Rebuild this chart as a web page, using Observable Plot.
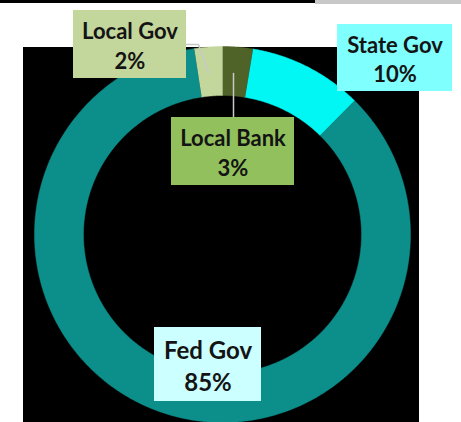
<!DOCTYPE html>
<html>
<head>
<meta charset="utf-8">
<script src="https://cdn.jsdelivr.net/npm/d3@7"></script>
<script src="https://cdn.jsdelivr.net/npm/@observablehq/plot@0.6"></script>
<style>
  html, body { margin: 0; padding: 0; background: #fff; }
  #chart svg { display: block; }
</style>
</head>
<body>
<div id="chart"></div>
<script>
// ---- data ----
const categories = ["Local Bank", "State Gov", "Fed Gov", "Local Gov"];
const shares = [2.6, 9.8, 85.2, 2.4];          // percent, clockwise from 12 o'clock
const pctLabels = ["3%", "10%", "85%", "2%"];
const sliceColors = ["#4f6228", "#00f7f3", "#0c8f8a", "#c3d69b"];
const boxColors = ["#92c05c", "#80ffff", "#ccffff", "#c3d69b"];

// ---- layout (pixel units, mapped 1:1 by the scales) ----
const W = 461, H = 422;
const center = {x: 222, y: 234};
const rOuter = 188, rInner = 139;
const panel = [{x1: 23, x2: 419, y1: 47, y2: 422, fill: "#000"},
               {x1: 0, x2: 315, y1: 0, y2: 3, fill: "#000"},
               {x1: 315, x2: 461, y1: 0, y2: 4, fill: "#c8c8c8"}];
const labelLayout = {
  "Local Bank": {x1: 171, x2: 294, y1: 117, y2: 185, size: 22},
  "State Gov":  {x1: 337, x2: 452, y1: 24,  y2: 91,  size: 22},
  "Fed Gov":    {x1: 154, x2: 261, y1: 327, y2: 401, size: 24},
  "Local Gov":  {x1: 73,  x2: 186, y1: 10,  y2: 78,  size: 22}
};
const leaders = [
  {id: "bank", pts: [[233, 117], [233, 73]]},
  {id: "gov",  pts: [[186, 44], [198, 44], [208, 72]]}
];

// ---- build ring polygons from the data ----
const total = d3.sum(shares);
const ring = [];
let acc = 0;
categories.forEach((name, i) => {
  const a0 = acc / total * 2 * Math.PI;
  acc += shares[i];
  const a1 = acc / total * 2 * Math.PI;
  const n = Math.max(8, Math.ceil((a1 - a0) / (Math.PI / 360)));
  for (let k = 0; k <= n; k++) {
    const a = a0 + (a1 - a0) * k / n;
    ring.push({name, x: center.x + rOuter * Math.sin(a), y: center.y - rOuter * Math.cos(a)});
  }
  for (let k = n; k >= 0; k--) {
    const a = a0 + (a1 - a0) * k / n;
    ring.push({name, x: center.x + rInner * Math.sin(a), y: center.y - rInner * Math.cos(a)});
  }
});

const labels = categories.map((name, i) => ({
  name, text: name + "\n" + pctLabels[i], fill: boxColors[i], ...labelLayout[name]
}));
const leaderPts = leaders.flatMap(l => l.pts.map(([x, y]) => ({id: l.id, x, y})));

const chart = Plot.plot({
  width: W, height: H,
  margin: 0,
  x: {domain: [0, W], range: [0, W], axis: null},
  y: {domain: [0, H], range: [0, H], axis: null},
  color: {domain: categories, range: sliceColors},
  style: {background: "#fff"},
  marks: [
    Plot.rect(panel, {x1: "x1", x2: "x2", y1: "y1", y2: "y2", fill: d => d.fill}),
    Plot.line(ring, {x: "x", y: "y", z: "name", fill: "name", stroke: "name", strokeWidth: 0.5}),
    Plot.line(leaderPts, {x: "x", y: "y", z: "id", stroke: "#c8c8c8", strokeWidth: 1.5}),
    Plot.rect(labels, {x1: "x1", x2: "x2", y1: "y1", y2: "y2", fill: d => d.fill}),
    ...labels.map(l => Plot.text([l], {
      x: d => (d.x1 + d.x2) / 2, y: d => (d.y1 + d.y2) / 2,
      text: "text", fill: "#141414", fontSize: l.size, fontWeight: "bold",
      fontFamily: "Lato", lineHeight: 1.35, textAnchor: "middle"
    }))
  ]
});
document.getElementById("chart").append(chart);
</script>
</body>
</html>
